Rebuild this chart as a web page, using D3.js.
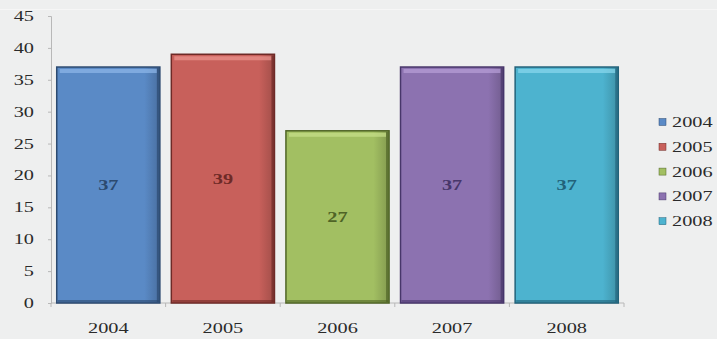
<!DOCTYPE html>
<html><head><meta charset="utf-8">
<script src="https://cdn.jsdelivr.net/npm/d3@7"></script>
<style>body{margin:0;background:#eeefef;}svg{display:block;}</style>
</head><body>
<svg id="c" width="717" height="339"></svg>
<script>
const categories = ["2004","2005","2006","2007","2008"];
const values = [37, 39, 27, 37, 37];
const yTicks = [0,5,10,15,20,25,30,35,40,45];
const colors = ["#5a8ac6","#c8605b","#a2bf62","#8c72b0","#4db3cf"];
const darks = ["#2c4a70","#6e2a27","#4f6426","#47366a","#22627a"];
const lights = ["#8fb8ea","#ec9590","#c7e08a","#b8a0d8","#8ad8ee"];
const FONT = "'Liberation Serif','Times New Roman','DejaVu Serif',serif";
const SX = 1.45;

const svg = d3.select("#c");
svg.append("rect").attr("width",717).attr("height",339).attr("fill","#eeefef");
svg.append("line").attr("x1",0).attr("x2",717).attr("y1",9.5).attr("y2",9.5).attr("stroke","#f6f6f6");

const x0 = 51, x1 = 624, yTop = 16, yBot = 303;
const x = d3.scaleBand().domain(categories).range([x0, x1]).paddingInner(0.1).paddingOuter(0.05);
const y = d3.scaleLinear().domain([0,45]).range([yBot, yTop]);

function stext(g, tx, ty, str, anchor, size, fill, weight){
  return g.append("text").attr("transform",`translate(${tx},${ty}) scale(${SX},1)`)
    .attr("text-anchor",anchor).attr("font-family",FONT).attr("font-size",size)
    .attr("font-weight",weight||"normal").attr("fill",fill).text(str);
}

const defs = svg.append("defs");
categories.forEach((c,i)=>{
  const g = defs.append("linearGradient").attr("id","g"+i).attr("x1","0").attr("x2","1").attr("y1","0").attr("y2","0");
  g.append("stop").attr("offset","0").attr("stop-color",colors[i]);
  g.append("stop").attr("offset","0.85").attr("stop-color",colors[i]);
  g.append("stop").attr("offset","1").attr("stop-color",d3.color(colors[i]).darker(0.6));
});

// y axis
const yAxis = d3.axisLeft(y).tickValues(yTicks).tickSize(3).tickFormat("");
const ya = svg.append("g").attr("transform",`translate(${x0},0)`).call(yAxis);
ya.select(".domain").attr("stroke","#b8b8b8");
ya.selectAll(".tick line").attr("stroke","#b8b8b8");
const yl = svg.append("g");
yTicks.forEach(t=>{ stext(yl, 34, y(t)+5, String(t), "end", 14, "#2a2a2a"); });

// x axis
const xa = svg.append("g").attr("transform",`translate(0,${yBot})`);
xa.append("line").attr("x1",x0).attr("x2",x1).attr("stroke","#b8b8b8");
const bounds = [x0].concat(categories.map((c,i)=> x0 + (x1-x0)/categories.length*(i+1)));
xa.selectAll("line.t").data(bounds).enter().append("line").attr("class","t")
  .attr("x1",d=>d).attr("x2",d=>d).attr("y1",0).attr("y2",4).attr("stroke","#b8b8b8");
categories.forEach(c=>{ stext(xa, x(c)+x.bandwidth()/2, 30, c, "middle", 14, "#2a2a2a"); });

// bars
const bars = svg.append("g");
categories.forEach((c,i)=>{
  const bx = x(c), bw = x.bandwidth(), by = y(values[i]), bh = yBot - by;
  const g = bars.append("g");
  g.append("rect").attr("x",bx).attr("y",by).attr("width",bw).attr("height",bh)
    .attr("fill","url(#g"+i+")").attr("stroke",darks[i]).attr("stroke-width",1.5);
  g.append("rect").attr("x",bx+3).attr("y",by+2).attr("width",bw-6).attr("height",4)
    .attr("fill",lights[i]).attr("opacity",0.7);
  g.append("rect").attr("x",bx+1).attr("y",yBot-3).attr("width",bw-2).attr("height",2.5)
    .attr("fill",darks[i]).attr("opacity",0.6);
  g.append("rect").attr("x",bx+bw-3).attr("y",by+1).attr("width",2.5).attr("height",bh-2)
    .attr("fill",darks[i]).attr("opacity",0.7);
  stext(g, bx+bw/2, (by+yBot)/2+5, String(values[i]), "middle", 14, darks[i], "bold");
});

// legend
const leg = svg.append("g");
categories.forEach((c,i)=>{
  const ly = 122 + i*24.8;
  leg.append("rect").attr("x",659).attr("y",ly-3.5).attr("width",7).attr("height",7)
    .attr("fill",colors[i]).attr("stroke",darks[i]).attr("stroke-width",0.5);
  stext(leg, 672, ly+5, c, "start", 14, "#2a2a2a");
});
</script>
</body></html>
